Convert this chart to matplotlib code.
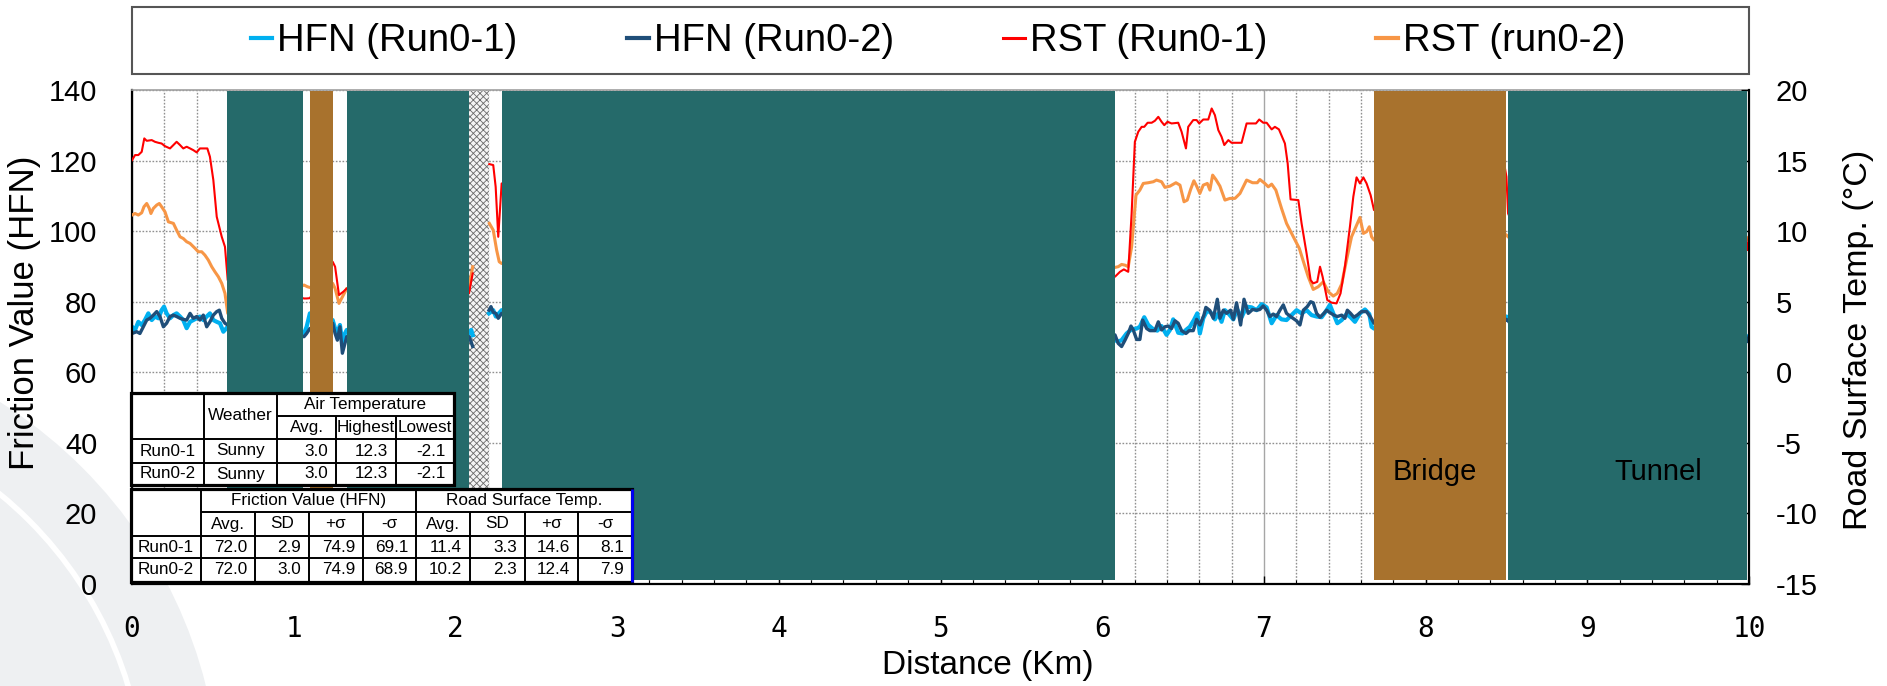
import numpy as np
import matplotlib
matplotlib.use("Agg")
import matplotlib.pyplot as plt
from matplotlib.patches import Rectangle, Ellipse
from matplotlib.lines import Line2D

plt.rcParams['font.family'] = ['Liberation Sans', 'DejaVu Sans']
plt.rcParams['axes.unicode_minus'] = False
plt.rcParams['hatch.linewidth'] = 0.6

nan = np.nan

# ---------------- data ----------------
# HFN Run0-1 (friction, left axis)
hfn1_km = [0.0, 0.019, 0.039, 0.060, 0.080, 0.101, 0.122, 0.142, 0.163, 0.183, 0.198, 0.214, 0.235, 0.256,
           0.276, 0.297, 0.317, 0.338, 0.359, 0.379, 0.400, 0.420, 0.441, 0.462, 0.482, 0.503, 0.524, 0.544,
           0.565, 0.592,
           1.064, 1.08, 1.10,
           1.241, 1.256, 1.270, 1.286, 1.301, 1.317, 1.328,
           2.084, 2.098, 2.107, 2.15,
           2.208, 2.234, 2.25, 2.265, 2.286,
           6.079, 6.099, 6.120, 6.151, 6.182, 6.213, 6.233, 6.260, 6.285, 6.316, 6.341, 6.367, 6.398, 6.419,
           6.439, 6.470, 6.497, 6.518, 6.542, 6.567, 6.588, 6.604, 6.625, 6.650, 6.676, 6.697, 6.718, 6.738,
           6.759, 6.780, 6.811, 6.835, 6.862, 6.893, 6.924, 6.955, 6.986, 7.017, 7.048, 7.078, 7.109, 7.140,
           7.171, 7.202, 7.233, 7.264, 7.295, 7.326, 7.357, 7.388, 7.408, 7.429, 7.454, 7.481, 7.511, 7.536,
           7.563, 7.594, 7.625, 7.652, 7.666, 7.681,
           8.49, 8.50, 8.51, 8.52,
           9.98, 9.99, 10.0]
hfn1 = [72.9, 72.0, 74.3, 73.4, 74.8, 76.7, 74.8, 75.8, 75.3, 77.6, 78.6, 76.7, 75.3, 76.2,
        76.7, 75.8, 74.8, 72.5, 74.3, 74.8, 75.3, 75.8, 74.8, 75.8, 76.7, 74.8, 74.3, 73.9,
        71.5, 72.9,
        71.0, 72.9, 76.7,
        74.8, 72.4, 71.0, 73.4, 68.2, 71.0, 72.0,
        71.0, 72.0, 70.5, nan,
        76.7, 77.6, 75.8, 76.5, 77.6,
        69.1, 68.7, 69.1, 71.0, 72.2, 72.4, 72.9, 75.6, 73.4, 72.2, 71.8, 73.1, 70.6, 72.0,
        75.0, 71.2, 71.0, 72.0, 72.9, 74.8, 76.7, 71.0, 75.3, 77.6, 76.7, 75.0, 76.7, 74.3,
        77.6, 76.7, 75.0, 77.8, 75.6, 78.6, 78.4, 77.6, 79.3, 78.4, 73.9, 76.2, 75.0, 74.8,
        76.2, 77.6, 76.7, 77.6, 76.2, 75.8, 75.6, 77.6, 79.1, 76.7, 73.9, 74.8, 76.5, 75.6,
        74.3, 76.7, 77.8, 76.5, 72.9, 72.4,
        75.0, 75.8, 75.5, 74.8,
        70.5, 69.6, 70.1]

# HFN Run0-2
hfn2_km = [0.0, 0.029, 0.049, 0.070, 0.091, 0.111, 0.132, 0.153, 0.173, 0.194, 0.214, 0.235, 0.256, 0.276,
           0.297, 0.317, 0.338, 0.359, 0.379, 0.400, 0.420, 0.441, 0.462, 0.482, 0.503, 0.524, 0.540, 0.555,
           0.575, 0.592,
           1.064, 1.08, 1.10,
           1.241, 1.256, 1.270, 1.286, 1.301, 1.317, 1.328,
           2.084, 2.098, 2.107, 2.15,
           2.208, 2.22, 2.234, 2.25, 2.265, 2.286,
           6.079, 6.099, 6.120, 6.141, 6.161, 6.178, 6.192, 6.213, 6.233, 6.250, 6.275, 6.295, 6.326, 6.347,
           6.367, 6.388, 6.408, 6.429, 6.450, 6.470, 6.491, 6.518, 6.538, 6.563, 6.584, 6.604, 6.629, 6.641,
           6.666, 6.687, 6.712, 6.728, 6.749, 6.769, 6.794, 6.811, 6.831, 6.856, 6.877, 6.903, 6.930, 6.955,
           6.975, 6.996, 7.017, 7.037, 7.058, 7.078, 7.099, 7.120, 7.140, 7.171, 7.202, 7.223, 7.244, 7.268,
           7.289, 7.305, 7.326, 7.347, 7.371, 7.388, 7.408, 7.433, 7.454, 7.481, 7.501, 7.516, 7.536, 7.557,
           7.577, 7.604, 7.635, 7.660, 7.681,
           8.49, 8.50, 8.51, 8.52,
           9.98, 9.99, 10.0]
hfn2 = [71.0, 71.5, 71.0, 72.9, 74.8, 75.3, 76.2, 77.2, 75.8, 72.9, 73.9, 75.8, 76.2, 75.8,
        75.3, 75.0, 74.8, 76.7, 75.3, 75.8, 74.8, 76.2, 72.9, 74.3, 76.2, 77.2, 77.6, 75.3,
        73.9, 73.4,
        70.1, 71.0, 72.4,
        73.9, 71.0, 69.1, 72.9, 65.4, 68.2, 70.1,
        70.1, 68.5, 67.3, nan,
        77.6, 78.6, 77.0, 76.7, 75.3, 76.7,
        70.6, 68.2, 67.3, 69.1, 71.0, 73.1, 72.0, 69.3, 69.3, 74.8, 72.4, 71.8, 71.8, 74.3,
        72.0, 72.9, 73.1, 72.4, 74.6, 73.9, 71.8, 71.0, 71.8, 71.8, 75.0, 73.4, 76.2, 78.4,
        77.5, 75.3, 80.7, 75.3, 77.6, 76.7, 77.6, 75.0, 79.7, 73.4, 80.7, 76.7, 77.8, 77.6,
        77.8, 78.8, 77.6, 75.8, 76.5, 75.8, 77.6, 79.1, 76.7, 75.6, 74.6, 73.4, 77.6, 78.6,
        80.0, 79.7, 76.7, 75.6, 76.7, 77.6, 76.9, 76.2, 75.8, 76.2, 75.3, 77.6, 76.7, 75.6,
        76.2, 77.2, 77.2, 75.6, 73.9,
        74.5, 75.0, 74.6, 74.0,
        69.5, 68.7, 70.1]

# RST Run0-1 (road surface temperature, right axis, deg C)
rst1_km = [0.0, 0.019, 0.039, 0.060, 0.076, 0.091, 0.122, 0.142, 0.163, 0.183, 0.204, 0.235, 0.256, 0.276,
           0.297, 0.317, 0.338, 0.359, 0.379, 0.400, 0.420, 0.466, 0.482, 0.503, 0.524, 0.555, 0.575, 0.592,
           1.064, 1.08, 1.10,
           1.241, 1.256, 1.280, 1.307, 1.328,
           2.084, 2.107, 2.15,
           2.210, 2.234, 2.249, 2.265, 2.286,
           6.079, 6.110, 6.134, 6.161, 6.182, 6.202, 6.223, 6.244, 6.260, 6.281, 6.306, 6.326, 6.347, 6.367,
           6.384, 6.404, 6.429, 6.470, 6.491, 6.518, 6.532, 6.563, 6.584, 6.600, 6.625, 6.656, 6.677, 6.697,
           6.718, 6.738, 6.755, 6.780, 6.800, 6.831, 6.862, 6.893, 6.924, 6.951, 6.971, 6.996, 7.017, 7.048,
           7.068, 7.093, 7.130, 7.147, 7.165, 7.213, 7.233, 7.264, 7.289, 7.305, 7.330, 7.347, 7.363, 7.392,
           7.419, 7.449, 7.474, 7.501, 7.532, 7.553, 7.573, 7.594, 7.615, 7.635, 7.660, 7.681,
           8.49, 8.50, 8.51, 8.52,
           9.98, 9.99, 10.0]
rst1 = [15.03, 15.39, 15.39, 15.62, 16.57, 16.40, 16.45, 16.33, 16.26, 16.21, 16.02, 15.86, 16.10, 16.33,
        16.10, 15.86, 15.98, 15.86, 15.74, 15.58, 15.86, 15.86, 15.27, 13.62, 11.02, 9.60, 8.89, 6.53,
        5.23, 5.23, 5.25,
        7.83, 7.48, 5.47, 5.71, 5.94,
        5.59, 7.00, nan,
        14.75, 14.68, 13.14, 9.60, 13.38,
        6.77, 7.12, 7.29, 7.12, 11.25, 16.33, 17.04, 17.39, 17.39, 17.68, 17.68, 17.82, 18.10, 17.75,
        17.51, 17.75, 17.63, 17.68, 17.04, 15.86, 17.39, 17.87, 17.87, 17.63, 17.91, 17.91, 18.69, 18.22,
        17.16, 16.69, 16.10, 16.45, 16.26, 16.26, 16.26, 17.63, 17.63, 17.63, 17.91, 17.68, 17.68, 17.21,
        17.39, 17.21, 16.21, 14.80, 12.25, 12.20, 10.55, 8.42, 6.53, 6.30, 6.41, 7.48, 6.77, 5.12,
        4.93, 4.88, 5.59, 7.48, 10.31, 12.44, 13.81, 13.38, 13.81, 13.38, 12.55, 11.49,
        14.5, 13.85, 11.25, 11.0,
        9.84, 8.66, 9.3]

# RST Run0-2
rst2_km = [0.0, 0.019, 0.039, 0.060, 0.074, 0.091, 0.107, 0.117, 0.132, 0.153, 0.169, 0.183, 0.204, 0.225,
           0.256, 0.276, 0.297, 0.317, 0.338, 0.359, 0.390, 0.410, 0.431, 0.451, 0.472, 0.493, 0.513, 0.534,
           0.555, 0.575, 0.592,
           1.064, 1.085, 1.10,
           1.241, 1.256, 1.280, 1.307, 1.328,
           2.084, 2.107, 2.15,
           2.210, 2.234, 2.255, 2.271, 2.286,
           6.079, 6.099, 6.120, 6.141, 6.161, 6.182, 6.209, 6.233, 6.254, 6.285, 6.316, 6.336, 6.367, 6.388,
           6.419, 6.456, 6.481, 6.506, 6.526, 6.547, 6.567, 6.584, 6.604, 6.625, 6.650, 6.666, 6.683, 6.703,
           6.728, 6.759, 6.790, 6.821, 6.852, 6.893, 6.930, 6.959, 6.975, 7.006, 7.027, 7.048, 7.074, 7.109,
           7.140, 7.182, 7.219, 7.248, 7.274, 7.305, 7.336, 7.367, 7.398, 7.429, 7.454, 7.481, 7.511, 7.542,
           7.569, 7.594, 7.615, 7.635, 7.652, 7.666, 7.681,
           8.49, 8.50, 8.51, 8.52,
           9.98, 9.99, 10.0]
rst2 = [11.14, 11.25, 11.14, 11.30, 11.73, 11.96, 11.61, 11.25, 11.61, 11.85, 11.96, 11.73, 11.37, 10.66,
        10.55, 10.07, 9.60, 9.48, 9.25, 9.13, 8.78, 8.54, 8.54, 8.30, 7.95, 7.48, 7.12, 6.77,
        6.30, 5.59, 4.17,
        6.18, 6.06, 6.01,
        6.30, 5.94, 4.88, 5.47, 5.94,
        6.06, 7.48, nan,
        10.55, 10.07, 8.66, 7.83, 7.71,
        7.43, 7.48, 7.64, 7.59, 7.48, 8.89, 12.55, 12.91, 13.38, 13.43, 13.50, 13.62, 13.50, 13.10,
        13.19, 13.43, 13.26, 12.08, 12.20, 12.96, 13.57, 13.19, 12.67, 13.26, 13.38, 12.91, 13.97, 13.66,
        13.19, 12.20, 12.32, 12.32, 12.67, 13.62, 13.43, 13.43, 13.66, 13.38, 13.14, 13.33, 12.91, 11.61,
        10.55, 9.60, 8.78, 7.71, 6.77, 5.87, 6.06, 6.41, 5.71, 5.40, 5.59, 6.25, 7.95, 9.60,
        10.31, 10.97, 9.84, 9.96, 10.31, 9.60, 9.37,
        9.8, 9.72, 9.6, 9.5,
        9.6, 9.4, 9.6]

# road sections (km)
tunnel_spans = [(0.59, 1.06), (1.33, 2.085), (2.286, 6.08), (8.507, 9.985)]
bridge_spans = [(1.10, 1.24), (7.68, 8.50)]
hatched_span = (2.085, 2.208)

# table contents
runs = ["Run0-1", "Run0-2"]
weather = ["Sunny", "Sunny"]
air_cols = ["Avg.", "Highest", "Lowest"]
air_vals = [[3.0, 12.3, -2.1], [3.0, 12.3, -2.1]]
stat_cols = ["Avg.", "SD", "+σ", "-σ"]
hfn_stats = [[72.0, 2.9, 74.9, 69.1], [72.0, 3.0, 74.9, 68.9]]
rst_stats = [[11.4, 3.3, 14.6, 8.1], [10.2, 2.3, 12.4, 7.9]]

labels = ["HFN (Run0-1)", "HFN (Run0-2)", "RST (Run0-1)", "RST (run0-2)"]
colors = ["#00b0f0", "#1f4e79", "#ff0000", "#f79646"]
widths = [3.0, 2.4, 1.5, 2.2]

TEAL = "#256a6a"
BROWN = "#a8722d"

# ---------------- figure ----------------
W, H = 1887, 686
fig = plt.figure(figsize=(W / 100, H / 100), dpi=100)
fig.patch.set_facecolor("white")


def fx(px):
    return px / W


def fy(py):
    return 1 - py / H


# faint watermark in the background
fig.patches.append(Ellipse((fx(-250), fy(800)), 2 * 470 / W, 2 * 470 / H,
                           transform=fig.transFigure, facecolor="#eef0f2", edgecolor="none", zorder=-5))
fig.patches.append(Ellipse((fx(-250), fy(800)), 2 * 395 / W, 2 * 395 / H,
                           transform=fig.transFigure, facecolor="none", edgecolor="white", lw=4, zorder=-4))

ax = fig.add_axes([fx(132), fy(584), (1749 - 132) / W, (584 - 90) / H])
ax.set_facecolor("white")
ax2 = ax.twinx()

ax.set_xlim(0, 10)
ax.set_ylim(0, 140)
ax2.set_ylim(-15, 20)

ax.set_xticks(range(0, 11))
ax.set_xticks(np.arange(0, 10.001, 0.2), minor=True)
ax.set_yticks(range(0, 141, 20))
ax2.set_yticks(range(-15, 21, 5))

ax.set_axisbelow(True)
ax.grid(which="major", axis="x", color="#a6a6a6", lw=1.0, ls="-")
ax.grid(which="minor", axis="x", color="#909090", lw=1.0, ls=(0, (1.2, 1.2)))
ax.grid(which="major", axis="y", color="#909090", lw=1.0, ls=(0, (1.2, 1.2)))

ax.tick_params(axis="x", which="major", direction="in", length=6, width=1, pad=22, labelsize=20)
ax.tick_params(axis="x", which="minor", direction="in", length=3, width=0.8)
ax.tick_params(axis="y", direction="in", length=0, pad=25, labelsize=21)
ax2.tick_params(axis="y", direction="in", length=6, width=1, pad=19, labelsize=21)
for lab in ax.get_xticklabels():
    lab.set_fontfamily("DejaVu Sans Mono")

for s in ["left", "bottom"]:
    ax.spines[s].set_color("black")
    ax.spines[s].set_linewidth(1.6)
ax.spines["top"].set_color("#a0a0a0")
ax.spines["top"].set_linewidth(1.2)
ax.spines["right"].set_visible(False)
for s in ["left", "bottom", "top"]:
    ax2.spines[s].set_visible(False)
ax2.spines["right"].set_color("black")
ax2.spines["right"].set_linewidth(1.6)

# hatched section (below lines)
ax.axvspan(*hatched_span, ymin=0.005, ymax=0.997, facecolor="#f4f4f4", edgecolor="#6a6a6a",
           hatch="xxxxx", linewidth=0, zorder=1.5)

# lines
ax.plot(hfn1_km, hfn1, color=colors[0], lw=widths[0], zorder=2)
ax.plot(hfn2_km, hfn2, color=colors[1], lw=widths[1], zorder=2.1)
ax2.plot(rst2_km, rst2, color=colors[3], lw=widths[3], zorder=2)
ax2.plot(rst1_km, rst1, color=colors[2], lw=widths[2], zorder=2.1)

# tunnel / bridge sections drawn over lines
for a, b in tunnel_spans:
    ax2.axvspan(a, b, ymin=0.009, ymax=0.997, facecolor=TEAL, edgecolor="none", zorder=3)
for a, b in bridge_spans:
    ax2.axvspan(a, b, ymin=0.009, ymax=0.997, facecolor=BROWN, edgecolor="none", zorder=3)

ax2.text(8.06, 31.8, "Bridge", transform=ax.transData, ha="center", va="center", fontsize=21, zorder=5)
ax2.text(9.44, 31.8, "Tunnel", transform=ax.transData, ha="center", va="center", fontsize=21, zorder=5)

# axis labels
ax.set_xlabel("Distance (Km)", fontsize=24, va="center")
ax.xaxis.set_label_coords(0.529, -0.164)
ax.set_ylabel("Friction Value (HFN)", fontsize=25, va="center", ha="center")
ax.yaxis.set_label_coords(-0.0665, 0.549)
ax2.set_ylabel("Road Surface Temp. (°C)", fontsize=24.5, va="center", ha="center", rotation=90)
ax2.yaxis.set_label_coords(1.068, 0.494)

# legend
handles = [Line2D([], [], color=c, lw=w) for c, w in zip(colors, [3, 3, 2.2, 3])]
fig.legend(handles, labels, loc="center", bbox_to_anchor=(fx(938), fy(41)), ncol=4, frameon=False,
           fontsize=27.5, handlelength=0.57, handletextpad=0.13, columnspacing=2.86, borderpad=0)

# overlay for legend frame and tables (pixel coordinates)
ov = fig.add_axes([0, 0, 1, 1], zorder=10)
ov.set_xlim(0, W)
ov.set_ylim(H, 0)
ov.axis("off")
ov.patch.set_alpha(0)

ov.add_patch(Rectangle((132, 7), 1617, 67, facecolor="none", edgecolor="#555555", lw=1.5))


def box(x0, y0, x1, y1):
    ov.add_patch(Rectangle((x0, y0), x1 - x0, y1 - y0, facecolor="white", edgecolor="black", lw=2.3))


def hl(x0, x1, y):
    ov.plot([x0, x1], [y, y], color="black", lw=1.4, solid_capstyle="butt")


def vl(x, y0, y1):
    ov.plot([x, x], [y0, y1], color="black", lw=1.4, solid_capstyle="butt")


def t(x, y, s, ha="center"):
    ov.text(x, y, s, ha=ha, va="center", fontsize=12.3)


# table 1 : weather / air temperature
cx = [131, 204, 277, 336, 396, 454]
ry = [393, 416, 439, 463, 485]
box(cx[0], ry[0], cx[-1], ry[-1])
vl(cx[1], ry[0], ry[-1])
vl(cx[2], ry[0], ry[-1])
vl(cx[3], ry[1], ry[-1])
vl(cx[4], ry[1], ry[-1])
hl(cx[2], cx[-1], ry[1])
hl(cx[0], cx[-1], ry[2])
hl(cx[0], cx[-1], ry[3])
t((cx[1] + cx[2]) / 2, ry[1], "Weather")
t((cx[2] + cx[5]) / 2, (ry[0] + ry[1]) / 2, "Air Temperature")
for j, name in enumerate(air_cols):
    t((cx[2 + j] + cx[3 + j]) / 2, (ry[1] + ry[2]) / 2, name)
for i in range(2):
    yc = (ry[2 + i] + ry[3 + i]) / 2
    t((cx[0] + cx[1]) / 2, yc, runs[i])
    t((cx[1] + cx[2]) / 2, yc, weather[i])
    for j in range(3):
        t(cx[3 + j] - 8, yc, f"{air_vals[i][j]:.1f}", ha="right")

# table 2 : friction / road surface temperature statistics
cx = [131, 201, 255, 309, 363, 416, 470, 525, 578, 632]
ry = [489, 512, 536, 558, 582]
box(cx[0], ry[0], cx[-1], ry[-1])
vl(cx[1], ry[0], ry[-1])
vl(cx[5], ry[0], ry[-1])
for k in [2, 3, 4, 6, 7, 8]:
    vl(cx[k], ry[1], ry[-1])
hl(cx[1], cx[-1], ry[1])
hl(cx[0], cx[-1], ry[2])
hl(cx[0], cx[-1], ry[3])
t((cx[1] + cx[5]) / 2, (ry[0] + ry[1]) / 2, "Friction Value (HFN)")
t((cx[5] + cx[9]) / 2, (ry[0] + ry[1]) / 2, "Road Surface Temp.")
for j in range(8):
    t((cx[1 + j] + cx[2 + j]) / 2, (ry[1] + ry[2]) / 2, stat_cols[j % 4])
for i in range(2):
    yc = (ry[2 + i] + ry[3 + i]) / 2
    t((cx[0] + cx[1]) / 2, yc, runs[i])
    vals = hfn_stats[i] + rst_stats[i]
    for j in range(8):
        t(cx[2 + j] - 8, yc, f"{vals[j]:.1f}", ha="right")
ov.plot([cx[-1], cx[-1]], [ry[0], ry[-1]], color="#0000ff", lw=2.0, solid_capstyle="butt")

fig.savefig("out.png", dpi=100)
